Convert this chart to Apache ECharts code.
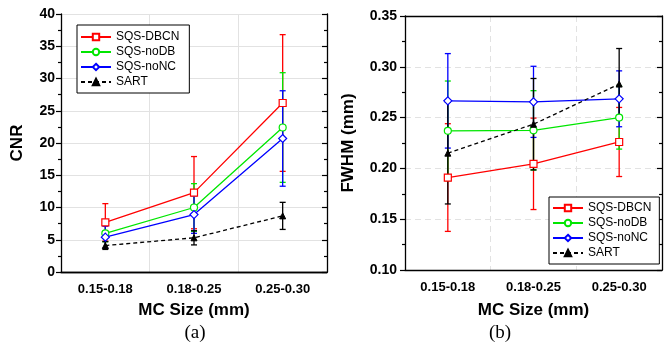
<!DOCTYPE html>
<html><head><meta charset="utf-8">
<script src="https://cdn.jsdelivr.net/npm/echarts@6/dist/echarts.min.js"></script>
<style>html,body{margin:0;padding:0;background:#fff}#c{width:665px;height:348px}</style>
</head><body><div id="c"></div>
<script>
var categories = ['0.15-0.18', '0.18-0.25', '0.25-0.30'];
var seriesNames = ['SQS-DBCN', 'SQS-noDB', 'SQS-noNC', 'SART'];
var seriesColors = ['#ff0000', '#00e600', '#0000ff', '#000000'];

// (a) CNR
var cnrDBCN = [7.7, 12.3, 26.2];
var cnrDBCNErr = [2.9, 5.6, 10.6];
var cnrNoDB = [6.0, 10.0, 22.4];
var cnrNoDBErr = [1.3, 3.7, 8.5];
var cnrNoNC = [5.4, 8.9, 20.7];
var cnrNoNCErr = [1.7, 2.9, 7.4];
var cnrSART = [4.1, 5.3, 8.7];
var cnrSARTErr = [0.6, 1.1, 2.1];

// (b) FWHM
var fwhmDBCN = [0.191, 0.2045, 0.226];
var fwhmDBCNErr = [0.053, 0.045, 0.034];
var fwhmNoDB = [0.237, 0.2375, 0.250];
var fwhmNoDBErr = [0.049, 0.039, 0.031];
var fwhmNoNC = [0.2665, 0.2655, 0.2685];
var fwhmNoNCErr = [0.0465, 0.035, 0.0275];
var fwhmSART = [0.215, 0.2435, 0.283];
var fwhmSARTErr = [0.050, 0.045, 0.035];

var cnrTicks = {min: 0, max: 40, interval: 5};
var fwhmTicks = {min: 0.10, max: 0.35, interval: 0.05};

var symbols = ['rect', 'circle', 'diamond', 'triangle'];
var symbolSizes = [7, 7, 8, 6];

var chart = echarts.init(document.getElementById('c'));
var FONT = 'Liberation Sans, Arial, sans-serif';

function errSeries(name, means, errs, color, gi) {
  var data = means.map(function (m, i) { return [i, m, errs[i]]; });
  return {
    type: 'custom', name: name + ' err', xAxisIndex: gi * 2, yAxisIndex: gi * 2,
    silent: true, z: 1,
    renderItem: function (params, api) {
      var x = api.value(0), m = api.value(1), e = api.value(2);
      var top = api.coord([x, m + e]);
      var bot = api.coord([x, m - e]);
      var cap = 3;
      var st = {stroke: color, lineWidth: 1.3};
      return {type: 'group', children: [
        {type: 'line', shape: {x1: top[0], y1: top[1], x2: bot[0], y2: bot[1]}, style: st},
        {type: 'line', shape: {x1: top[0] - cap, y1: top[1], x2: top[0] + cap, y2: top[1]}, style: st},
        {type: 'line', shape: {x1: bot[0] - cap, y1: bot[1], x2: bot[0] + cap, y2: bot[1]}, style: st}
      ]};
    },
    data: data
  };
}
function lineSeries(idx, means, gi) {
  var c = seriesColors[idx];
  var isSart = idx === 3;
  return {
    type: 'line', name: seriesNames[idx], xAxisIndex: gi * 2, yAxisIndex: gi * 2, z: 3,
    data: means, symbol: symbols[idx], symbolSize: symbolSizes[idx],
    lineStyle: {color: c, width: 1.3, type: isSart ? [4, 3] : 'solid'},
    itemStyle: isSart ? {color: '#000', borderColor: '#000', borderWidth: 1} : {color: '#fff', borderColor: c, borderWidth: 1.2},
    emphasis: {disabled: true}, animation: false
  };
}
function xAxes(gi) {
  return [{
    type: 'category', gridIndex: gi, data: categories, position: 'bottom',
    axisLine: {lineStyle: {color: '#000', width: 1.3}},
    axisTick: {alignWithLabel: true, length: 4, inside: false, lineStyle: {color: '#000', width: 1.2}},
    axisLabel: {color: '#000', fontFamily: FONT, fontWeight: 'bold', fontSize: 13, margin: 11},
    splitLine: {show: true, lineStyle: {color: '#e2e2e2', width: 1, type: gi === 1 ? [6, 4] : 'solid'}},
    name: 'MC Size (mm)', nameLocation: 'middle', nameGap: gi === 0 ? 30 : 32,
    nameTextStyle: {color: '#000', fontFamily: FONT, fontWeight: 'bold', fontSize: 17}
  }, {
    type: 'category', gridIndex: gi, data: categories, position: 'top',
    axisLine: {lineStyle: {color: '#000', width: 1.3}},
    axisTick: {alignWithLabel: true, length: 4, inside: true, lineStyle: {color: '#000', width: 1.2}},
    axisLabel: {show: false}, splitLine: {show: false}
  }];
}
function yAxes(gi, t, name, decimals, gap) {
  return [{
    type: 'value', gridIndex: gi, min: t.min, max: t.max, interval: t.interval, position: 'left',
    axisLine: {show: true, lineStyle: {color: '#000', width: 1.3}},
    axisTick: {show: true, length: 5, lineStyle: {color: '#000', width: 1.2}},
    minorTick: {show: true, splitNumber: 2, length: 3, lineStyle: {color: '#000', width: 1.2}},
    axisLabel: {color: '#000', fontFamily: FONT, fontWeight: 'bold', fontSize: 14, margin: gi === 0 ? 6 : 8,
      formatter: function (v) { return v.toFixed(decimals); }},
    splitLine: {show: true, lineStyle: {color: '#e2e2e2', width: 1, type: gi === 1 ? [6, 4] : 'solid'}},
    name: name, nameLocation: 'middle', nameGap: gap,
    nameTextStyle: {color: '#000', fontFamily: FONT, fontWeight: 'bold', fontSize: 17}
  }, {
    type: 'value', gridIndex: gi, min: t.min, max: t.max, interval: t.interval, position: 'right',
    axisLine: {show: true, lineStyle: {color: '#000', width: 1.3}},
    axisTick: {show: true, inside: true, length: 5, lineStyle: {color: '#000', width: 1.2}},
    minorTick: {show: true, splitNumber: 2, length: 3, lineStyle: {color: '#000', width: 1.2}},
    axisLabel: {show: false}, splitLine: {show: false}
  }];
}

var series = [];
var cnrMeans = [cnrDBCN, cnrNoDB, cnrNoNC, cnrSART];
var cnrErrs = [cnrDBCNErr, cnrNoDBErr, cnrNoNCErr, cnrSARTErr];
var fwhmMeans = [fwhmDBCN, fwhmNoDB, fwhmNoNC, fwhmSART];
var fwhmErrs = [fwhmDBCNErr, fwhmNoDBErr, fwhmNoNCErr, fwhmSARTErr];
for (var i = 0; i < 4; i++) series.push(errSeries(seriesNames[i], cnrMeans[i], cnrErrs[i], seriesColors[i], 0));
for (var i = 0; i < 4; i++) series.push(errSeries(seriesNames[i], fwhmMeans[i], fwhmErrs[i], seriesColors[i], 1));
for (var i = 0; i < 4; i++) series.push(lineSeries(i, cnrMeans[i], 0));
for (var i = 0; i < 4; i++) series.push(lineSeries(i, fwhmMeans[i], 1));

var legendCommon = {
  orient: 'vertical', data: seriesNames, selectedMode: false,
  itemWidth: 30, itemHeight: 8, itemGap: 3,
  backgroundColor: '#fff', borderColor: '#000', borderWidth: 1,
  textStyle: {color: '#000', fontFamily: FONT, fontSize: 12, lineHeight: 12}
};

chart.setOption({
  animation: false,
  backgroundColor: '#fff',
  title: [
    {text: '(a)', left: 195, top: 324, textAlign: 'center', padding: 0,
      textStyle: {fontFamily: 'Liberation Serif, Times New Roman, serif', fontWeight: 'normal', fontSize: 19, color: '#000'}},
    {text: '(b)', left: 500, top: 324, textAlign: 'center', padding: 0,
      textStyle: {fontFamily: 'Liberation Serif, Times New Roman, serif', fontWeight: 'normal', fontSize: 19, color: '#000'}}
  ],
  grid: [
    {left: 61, top: 14, width: 266, height: 258},
    {left: 405, top: 16, width: 257, height: 254}
  ],
  xAxis: xAxes(0).concat(xAxes(1)),
  yAxis: yAxes(0, cnrTicks, 'CNR', 0, 35).concat(yAxes(1, fwhmTicks, 'FWHM (mm)', 2, 48)),
  legend: [
    Object.assign({left: 77, top: 25, width: 113, padding: [6, 10, 5, 3]}, legendCommon),
    Object.assign({left: 549, top: 197, padding: [5, 8, 5, 3]}, legendCommon)
  ],
  series: series
});
</script></body></html>
